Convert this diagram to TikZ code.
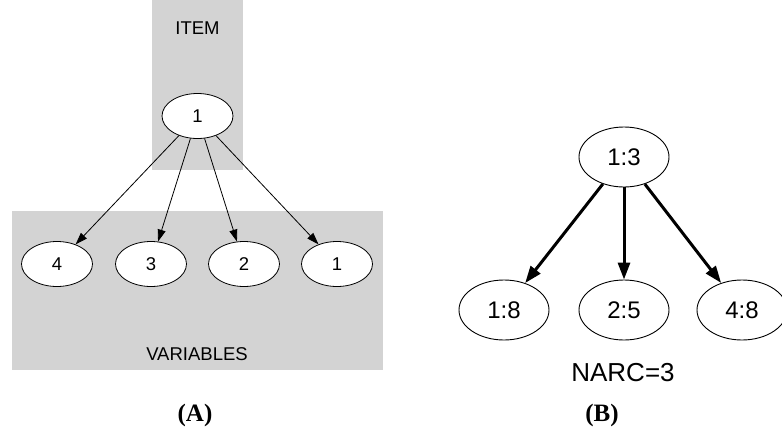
\documentclass[tikz,border=0pt]{standalone}
\usepackage{fontspec}
\setmainfont{Liberation Sans}
\newfontfamily\panelfont{Liberation Serif}
\usetikzlibrary{shapes,arrows.meta}
\definecolor{clustergray}{RGB}{211,211,211}

\begin{document}
\begin{tikzpicture}[x=1pt, y=-1pt]
\tikzstyle{clusterbox}=[fill=clustergray, draw=none]
\tikzstyle{vertexs}=[ellipse, draw=black, fill=white, line width=0.8pt, minimum width=71pt, minimum height=45pt, inner sep=0pt, font=\fontsize{18.5}{18.5}\selectfont]
\tikzstyle{vertexl}=[ellipse, draw=black, fill=white, line width=0.9pt, minimum width=90pt, minimum height=60pt, inner sep=0pt, font=\fontsize{24}{24}\selectfont]
\tikzstyle{labelstyle}=[inner sep=0pt, font=\fontsize{18.5}{18.5}\selectfont]
\tikzstyle{thinarrow}=[line width=0.8pt, -{Triangle[length=12pt, width=8pt]}]
\tikzstyle{thickarrow}=[line width=3pt, -{Triangle[length=17pt, width=12pt]}]
\useasboundingbox (0,0) rectangle (782,439);

% (A)
\fill[clusterbox] (152,0) rectangle (243,170);
\fill[clusterbox] (12,211) rectangle (383,370);
\node[labelstyle] (itemlbl) at (197.5,28) {ITEM};
\node[labelstyle] (varlbl) at (197,354) {VARIABLES};
\node[vertexs] (item1) at (197.5,116) {1};
\node[vertexs] (var4) at (57,264) {4};
\node[vertexs] (var3) at (151,264) {3};
\node[vertexs] (var2) at (244,264) {2};
\node[vertexs] (var1) at (337,264) {1};
\draw[thinarrow] (item1) -- (var4);
\draw[thinarrow] (item1) -- (var3);
\draw[thinarrow] (item1) -- (var2);
\draw[thinarrow] (item1) -- (var1);

% (B)
\node[vertexl] (arc13) at (624,157) {1:3};
\node[vertexl] (arc18) at (504,310) {1:8};
\node[vertexl] (arc25) at (624,310) {2:5};
\node[vertexl] (arc48) at (742,310) {4:8};
\draw[thickarrow] (arc13) -- (arc18);
\draw[thickarrow] (arc13) -- (arc25);
\draw[thickarrow] (arc13) -- (arc48);
\node[inner sep=0pt, font=\fontsize{26}{26}\selectfont] (narc) at (623,373) {NARC=3};

\node[inner sep=0pt, font=\panelfont\bfseries\fontsize{25}{25}\selectfont] (capA) at (195,415) {(A)};
\node[inner sep=0pt, font=\panelfont\bfseries\fontsize{25}{25}\selectfont] (capB) at (602,415) {(B)};
\end{tikzpicture}
\end{document}
